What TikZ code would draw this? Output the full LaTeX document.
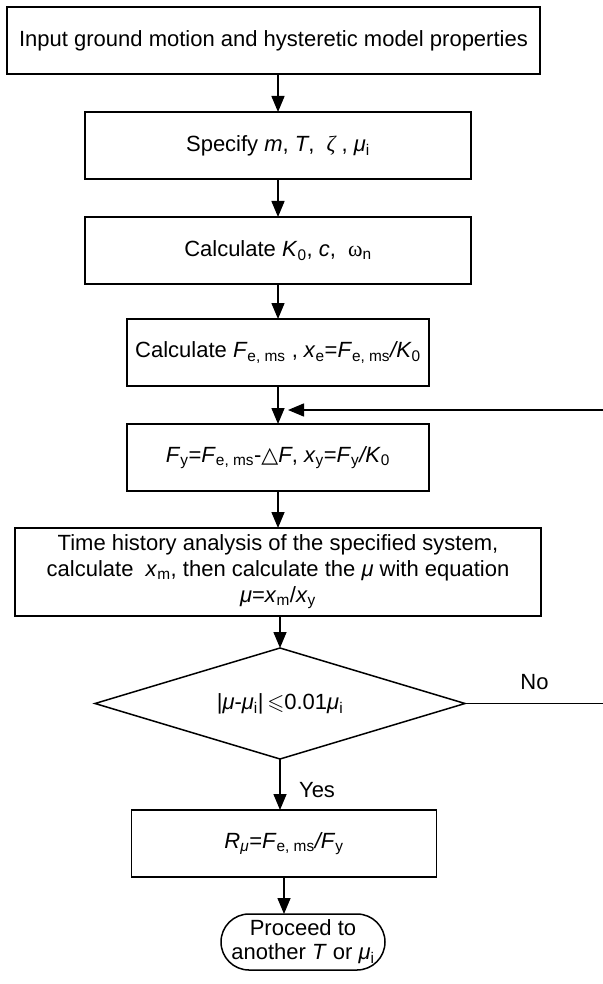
\documentclass[tikz,border=0pt]{standalone}
\usepackage{fontspec}
\setmainfont{Liberation Sans}
\newfontfamily\greekfont{Liberation Serif}
\newfontfamily\shapefont{DejaVu Sans}
\usepackage{amssymb}
\usetikzlibrary{shapes.geometric,arrows.meta,positioning}

% italic variable and upright subscript
\newcommand{\iv}[1]{\textit{#1}}
\newcommand{\sbs}[1]{\textsubscript{#1}}

\begin{document}
\begin{tikzpicture}[
  node distance=38pt,
  font=\fontsize{22}{26}\selectfont,
  block/.style={rectangle, draw, line width=1.5pt, outer sep=0pt, minimum height=67pt, inner sep=2pt, align=center},
  decision/.style={diamond, draw, line width=1.5pt, outer sep=0pt, aspect=3.3, minimum width=370pt, minimum height=111pt, inner sep=0pt},
  terminal/.style={rectangle, draw, line width=1.5pt, outer sep=0pt, rounded corners=28pt, minimum width=164pt, minimum height=56pt, inner sep=0pt, align=center, font=\fontsize{22}{24}\selectfont},
  arrow/.style={-{Triangle[length=16pt, width=13pt]}, line width=1.5pt},
]
  \useasboundingbox (0,0) rectangle (602pt,-984pt);

  \node[block, minimum width=533pt] (input) at (273.5pt,-40.5pt) {Input ground motion and hysteretic model properties};
  \node[block, minimum width=386pt, below=38pt of input, xshift=4.5pt] (specify) {Specify \iv{m}, \iv{T}, \ {\greekfont\itshape ζ} , \iv{μ}\sbs{i}};
  \node[block, minimum width=386pt, below=38pt of specify] (stiff) {Calculate \iv{K}\sbs{0}, \iv{c}, \ {\greekfont ω}\sbs{n}};
  \node[block, minimum width=302pt, below=35pt of stiff] (elastic) {Calculate \iv{F}\sbs{e, ms} , \iv{x}\sbs{e}=\iv{F}\sbs{e, ms}\iv{/K}\sbs{0}};
  \node[block, minimum width=302pt, below=38pt of elastic] (yield) {\iv{F}\sbs{y}=\iv{F}\sbs{e, ms}-{\shapefont △}\iv{F}, \iv{x}\sbs{y}=\iv{F}\sbs{y}\iv{/K}\sbs{0}};
  \node[block, minimum width=526pt, minimum height=88pt, below=37pt of yield] (history) {Time history analysis of the specified system,\\ calculate \ \iv{x}\sbs{m}, then calculate the \iv{μ} with equation\\ \iv{μ}=\iv{x}\sbs{m}/\iv{x}\sbs{y}};
  \node[decision, below=32pt of history, xshift=2pt] (check) {|\iv{μ}-\iv{μ}\sbs{i}|\,$\leqslant$0.01\iv{μ}\sbs{i}};
  \node[block, minimum width=305pt, below=51pt of check, xshift=4pt] (ratio) {\iv{R}\sbs{\iv{μ}}=\iv{F}\sbs{e, ms}\iv{/F}\sbs{y}};
  \node[terminal, below=37pt of ratio, xshift=19pt] (next) {Proceed to\\ another \iv{T} or \iv{μ}\sbs{i}};

  % loop back joins just beside the arrow into the yield box
  \coordinate (merge) at ([xshift=10pt, yshift=-24pt]elastic.south);
  \coordinate (edge) at (604pt,0);

  \draw[arrow] (input.south -| specify.north) -- (specify.north);
  \draw[arrow] (specify) -- (stiff);
  \draw[arrow] (stiff) -- (elastic);
  \draw[arrow] (elastic) -- (yield);
  \draw[arrow] (yield) -- (history);
  \draw[arrow] (history.south -| check.north) -- (check.north);
  \draw[arrow] (check.south) -- node[pos=0.6, right=15pt] {Yes} (check.south |- ratio.north);
  \draw[arrow] (ratio) -- (ratio.south |- next.north);
  \draw[arrow] (check.east) -- node[above=10pt] {No} (check.east -| edge) |- (merge);
\end{tikzpicture}
\end{document}
